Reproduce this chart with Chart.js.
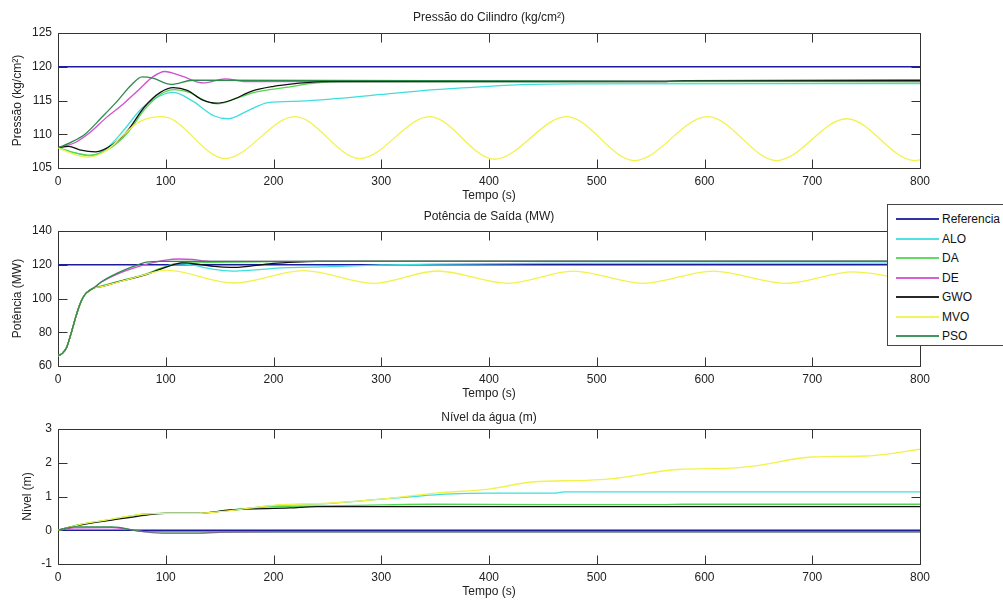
<!DOCTYPE html>
<html>
<head>
<meta charset="utf-8">
<script src="https://cdn.jsdelivr.net/npm/chart.js@4.4.1/dist/chart.umd.min.js"></script>
<style>
  html, body { margin: 0; padding: 0; background: #fff; width: 1003px; height: 603px; overflow: hidden; }
  canvas { position: absolute; left: 0; }
  #legenda {
    position: absolute; left: 887px; top: 204px; width: 140px; height: 142px;
    border: 1px solid #444; background: #fff; box-sizing: border-box;
    font-family: "Liberation Sans", Arial, sans-serif; font-size: 12px; color: #111;
  }
  #legenda .linha { position: absolute; left: 8px; width: 43px; height: 2px; opacity: 0.9; }
  #legenda .nome { position: absolute; left: 54px; line-height: 14px; white-space: nowrap; }
</style>
</head>
<body>
<canvas id="gPressao" width="1003" height="203" style="top:0px"></canvas>
<canvas id="gPotencia" width="1003" height="203" style="top:198px"></canvas>
<canvas id="gNivel" width="1003" height="203" style="top:396px"></canvas>
<div id="legenda"></div>

<script>
// Series names and colours (MATLAB-style palette)
const series = ['Referencia', 'ALO', 'DA', 'DE', 'GWO', 'MVO', 'PSO'];
const cores  = ['#1c1c9c', '#3fdede', '#4fd84f', '#d050d0', '#111111', '#f2f24a', '#2e8b4e'];

// Time axis ticks (s)
const tempoTicks = [0, 100, 200, 300, 400, 500, 600, 700, 800];

// Cylinder pressure (kg/cm²): [time, value]
const pressaoReferencia = [[0,120],[800,120]];
const pressaoALO = [[0,108],[12,107.4],[30,106.8],[45,107.9],[60,110.4],[78,113.9],[95,115.7],[107,116.2],[125,114.9],[145,112.7],[158,112.3],[175,113.4],[195,114.7],[225,114.9],[260,115.3],[300,115.9],[350,116.6],[400,117.1],[430,117.35],[480,117.45],[800,117.5]];
const pressaoDA  = [[0,108],[12,107.4],[30,106.9],[48,107.9],[65,110.3],[80,113.6],[95,115.9],[108,116.6],[122,116.2],[136,115],[148,114.5],[165,115.3],[185,116.3],[210,116.9],[240,117.6],[270,117.8],[800,117.8]];
const pressaoDE  = [[0,108],[15,108.7],[30,110.3],[45,112.5],[60,114.4],[75,116.6],[88,118.5],[99,119.3],[115,118.6],[135,117.6],[155,118.2],[175,117.8],[800,117.9]];
const pressaoGWO = [[0,108],[10,108.2],[20,107.7],[35,107.4],[50,108.4],[65,110.6],[80,114],[95,116.2],[107,116.9],[120,116.5],[134,115.1],[147,114.6],[160,115],[180,116.4],[200,117.1],[220,117.5],[245,117.8],[560,117.8],[580,117.95],[800,118]];
const pressaoMVO = [[0,108],[12,107.2],[28,106.6],[45,107.6],[60,109.8],[75,111.8],[97,112.6],[155,106.4],[220,112.6],[280,106.4],[345,112.6],[405,106.3],[472,112.6],[535,106.1],[603,112.6],[667,106.1],[732,112.3],[795,106.1],[800,106.2]];
const pressaoPSO = [[0,108],[12,108.8],[25,110],[40,112.4],[55,114.9],[68,117.3],[78,118.5],[88,118.3],[105,117.4],[125,118],[800,117.8]];
const pressaoTicks = [105, 110, 115, 120, 125];

// Output power (MW): shared start-up segment, then each series
const potenciaInicio = [[0,66],[4,67.5],[8,71],[12,79],[16,88],[20,96],[24,101.5],[28,104.2],[33,106.2]];
const potenciaReferencia = [[0,120],[800,120]];
const potenciaALO = [[40,107.3],[60,110.6],[80,114],[95,117.6],[110,120.6],[125,119.8],[145,117.2],[162,116.2],[180,116.8],[200,117.9],[255,118.9],[300,119.9],[350,120.4],[450,120.8],[800,121]];
const potenciaDA  = [[40,107.4],[60,110.8],[80,114.2],[95,117.8],[108,120.4],[120,121.6],[140,121.4],[170,121.5],[200,121.8],[230,122],[800,122]];
const potenciaDE  = [[40,109.6],[55,114.5],[70,118],[85,120.8],[100,122.8],[112,123.4],[125,123.1],[135,122.3],[150,122],[800,122]];
const potenciaGWO = [[40,107],[60,110.6],[80,113.8],[95,117.4],[105,119.6],[115,121.1],[130,120.4],[145,119],[160,118.4],[180,119.3],[200,120.8],[220,121.6],[240,122],[800,122]];
const potenciaMVO = [[40,107],[60,110.5],[80,114],[100,116.8],[163,109.2],[228,116.5],[293,109],[352,116.3],[418,109],[478,116.2],[543,109],[608,116.2],[675,109],[738,115.8],[800,109.4]];
const potenciaPSO = [[40,109.8],[55,115],[70,119],[82,121.5],[95,122],[800,122]];
const potenciaTicks = [60, 80, 100, 120, 140];

// Water level (m)
const nivelReferencia = [[0,0],[800,0]];
const nivelALO = [[0,0],[20,0.17],[40,0.27],[60,0.38],[80,0.48],[100,0.5],[130,0.5],[150,0.56],[170,0.63],[200,0.73],[250,0.79],[300,0.92],[330,1.0],[360,1.07],[400,1.1],[462,1.1],[470,1.14],[800,1.14]];
const nivelDA  = [[0,0],[20,0.17],[40,0.27],[60,0.38],[80,0.48],[100,0.5],[130,0.5],[150,0.56],[170,0.63],[200,0.7],[250,0.72],[300,0.75],[350,0.77],[450,0.76],[560,0.76],[580,0.77],[800,0.77]];
const nivelDE  = [[0,0],[15,0.07],[50,0.08],[85,-0.06],[100,-0.09],[130,-0.09],[150,-0.06],[200,-0.05],[800,-0.05]];
const nivelGWO = [[0,0],[20,0.15],[50,0.3],[82,0.45],[100,0.5],[130,0.5],[160,0.6],[215,0.66],[240,0.7],[800,0.7]];
const nivelMVO = [[0,0],[20,0.17],[40,0.28],[60,0.39],[80,0.48],[100,0.5],[130,0.5],[150,0.55],[170,0.62],[200,0.74],[250,0.8],[300,0.92],[350,1.1],[400,1.22],[440,1.43],[490,1.48],[515,1.53],[575,1.8],[625,1.84],[645,1.9],[700,2.17],[750,2.2],[765,2.24],[800,2.4]];
const nivelPSO = [[0,0],[15,0.1],[50,0.1],[80,-0.04],[100,-0.05],[800,-0.05]];
const nivelTicks = [-1, 0, 1, 2, 3];

Chart.defaults.font.family = '"Liberation Sans", Arial, sans-serif';
Chart.defaults.font.size = 12;
Chart.defaults.color = '#222';

const FONTE = { family: '"Liberation Sans", Arial, sans-serif', size: 12 };

// Box around the plot area with inward tick marks on all four sides
const moldura = {
  id: 'moldura',
  beforeDatasetsDraw(chart) {
    const { ctx, chartArea: a, scales: { x, y } } = chart;
    const L = Math.round(a.left) + 0.5, R = Math.round(a.right) + 0.5;
    const T = Math.round(a.top) + 0.5, B = Math.round(a.bottom) + 0.5;
    const len = 9;
    ctx.save();
    ctx.strokeStyle = '#333';
    ctx.lineWidth = 1;
    ctx.beginPath();
    x.ticks.forEach(t => {
      const px = Math.round(x.getPixelForValue(t.value)) + 0.5;
      ctx.moveTo(px, B); ctx.lineTo(px, B - len);
      ctx.moveTo(px, T); ctx.lineTo(px, T + len);
    });
    y.ticks.forEach(t => {
      const py = Math.round(y.getPixelForValue(t.value)) + 0.5;
      ctx.moveTo(L, py); ctx.lineTo(L + len, py);
      ctx.moveTo(R, py); ctx.lineTo(R - len, py);
    });
    ctx.rect(L, T, R - L, B - T);
    ctx.stroke();
    ctx.restore();
  }
};

function conjunto(pontos, i) {
  return {
    label: series[i],
    data: pontos.map(([t, v]) => ({ x: t, y: v })),
    borderColor: cores[i],
    backgroundColor: cores[i],
    borderWidth: 1.3,
    pointRadius: 0,
    fill: false,
    cubicInterpolationMode: 'monotone',
    order: series.length - i
  };
}

function grafico(id, titulo, tituloPad, rotuloY, rotuloPad, ticksY, dados) {
  new Chart(document.getElementById(id), {
    type: 'line',
    data: { datasets: dados.map((d, i) => conjunto(d, i)) },
    plugins: [moldura],
    options: {
      responsive: false,
      animation: false,
      events: [],
      layout: { padding: { left: 0, right: 83, top: 0, bottom: 0 } },
      plugins: {
        legend: { display: false },
        tooltip: { enabled: false },
        title: {
          display: true, text: titulo, fullSize: false, color: '#222',
          font: { ...FONTE, weight: 'normal' }, padding: tituloPad
        }
      },
      scales: {
        x: {
          type: 'linear', min: tempoTicks[0], max: tempoTicks[tempoTicks.length - 1],
          afterBuildTicks: s => { s.ticks = tempoTicks.map(v => ({ value: v })); },
          ticks: { padding: 6, font: FONTE, color: '#222', maxRotation: 0, autoSkip: false },
          grid: { display: false, drawTicks: false },
          border: { display: false },
          title: { display: true, text: 'Tempo (s)', font: FONTE, color: '#222', padding: { top: 0, bottom: 0 } },
          afterFit: s => { s.height = 35; }
        },
        y: {
          type: 'linear', min: ticksY[0], max: ticksY[ticksY.length - 1],
          afterBuildTicks: s => { s.ticks = ticksY.map(v => ({ value: v })); },
          ticks: { padding: 6, font: FONTE, color: '#222', autoSkip: false },
          grid: { display: false, drawTicks: false },
          border: { display: false },
          title: { display: true, text: rotuloY, font: FONTE, color: '#222', padding: { top: rotuloPad, bottom: 0 } },
          afterFit: s => { s.width = 58; }
        }
      }
    }
  });
}

grafico('gPressao', 'Pressão do Cilindro (kg/cm²)', { top: 10, bottom: 8.6 },
  'Pressão (kg/cm²)', 10, pressaoTicks,
  [pressaoReferencia, pressaoALO, pressaoDA, pressaoDE, pressaoGWO, pressaoMVO, pressaoPSO]);

grafico('gPotencia', 'Potência de Saída (MW)', { top: 11, bottom: 7.6 },
  'Potência (MW)', 10, potenciaTicks,
  [potenciaReferencia,
   [...potenciaInicio, ...potenciaALO], [...potenciaInicio, ...potenciaDA],
   [...potenciaInicio, ...potenciaDE], [...potenciaInicio, ...potenciaGWO],
   [...potenciaInicio, ...potenciaMVO], [...potenciaInicio, ...potenciaPSO]]);

grafico('gNivel', 'Nível da água (m)', { top: 14, bottom: 4.6 },
  'Nível (m)', 20, nivelTicks,
  [nivelReferencia, nivelALO, nivelDA, nivelDE, nivelGWO, nivelMVO, nivelPSO]);

// Legend box
const legenda = document.getElementById('legenda');
series.forEach((nome, i) => {
  const cy = Math.round(14 + i * 19.5);
  const linha = document.createElement('div');
  linha.className = 'linha';
  linha.style.top = (cy - 1) + 'px';
  linha.style.background = cores[i];
  const txt = document.createElement('div');
  txt.className = 'nome';
  txt.style.top = (cy - 7) + 'px';
  txt.textContent = nome;
  legenda.appendChild(linha);
  legenda.appendChild(txt);
});
</script>
</body>
</html>
